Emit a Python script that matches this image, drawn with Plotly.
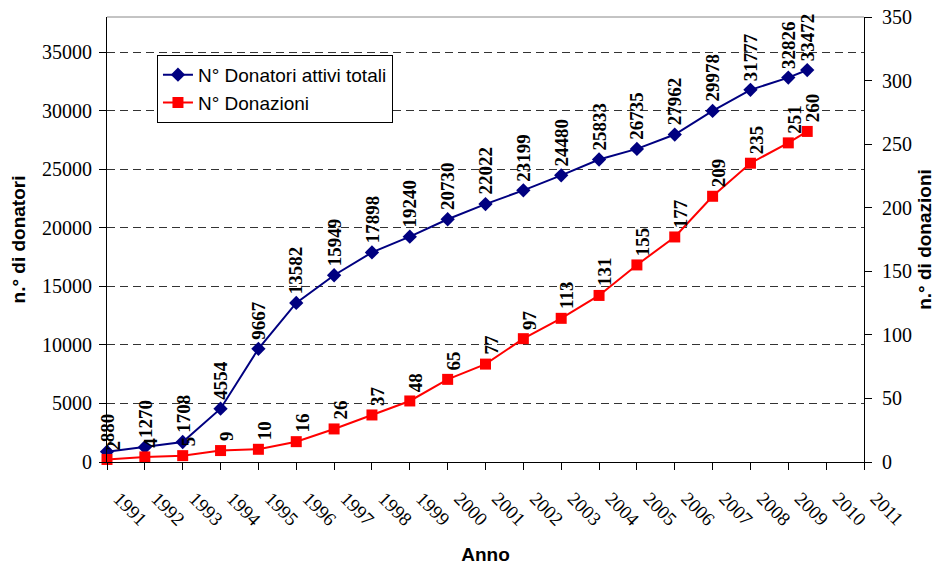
import plotly.graph_objects as go

# Data
anni = [1991, 1992, 1993, 1994, 1995, 1996, 1997, 1998, 1999, 2000,
        2001, 2002, 2003, 2004, 2005, 2006, 2007, 2008, 2009, 2009.5]
donatori = [880, 1270, 1708, 4554, 9667, 13582, 15949, 17898, 19240, 20730,
            22022, 23199, 24480, 25833, 26735, 27962, 29978, 31777, 32826, 33472]
donazioni = [2, 4, 5, 9, 10, 16, 26, 37, 48, 65,
             77, 97, 113, 131, 155, 177, 209, 235, 251, 260]
tick_anni = list(range(1991, 2012))

BLUE = "#000080"
RED = "#FF0000"
SERIF = "Liberation Serif, Times New Roman, serif"
SANS = "Liberation Sans, Arial, sans-serif"

fig = go.Figure()
fig.add_trace(go.Scatter(
    x=anni, y=donatori, name="N° Donatori attivi totali", mode="lines+markers",
    line=dict(color=BLUE, width=2),
    marker=dict(symbol="diamond", size=11, color=BLUE),
    cliponaxis=False, yaxis="y"))
fig.add_trace(go.Scatter(
    x=anni, y=donazioni, name="N° Donazioni", mode="lines+markers",
    line=dict(color=RED, width=2),
    marker=dict(symbol="square", size=11, color=RED),
    cliponaxis=False, yaxis="y2"))

annotations = []
for xv, yv in zip(anni, donatori):
    annotations.append(dict(x=xv, y=yv, xref="x", yref="y", text=f"<b>{yv}</b>",
                            textangle=-90, showarrow=False, xanchor="center",
                            yanchor="bottom", yshift=7,
                            font=dict(family=SERIF, size=19, color="black")))
for xv, yv in zip(anni, donazioni):
    annotations.append(dict(x=xv, y=yv, xref="x", yref="y2", text=f"<b>{yv}</b>",
                            textangle=-90, showarrow=False, xanchor="center",
                            yanchor="bottom", yshift=7, xshift=6,
                            font=dict(family=SERIF, size=19, color="black")))

fig.update_layout(
    width=932, height=557,
    margin=dict(l=99, r=76, t=9, b=103, autoexpand=False),
    paper_bgcolor="white", plot_bgcolor="white",
    showlegend=True,
    legend=dict(x=0.066, y=0.915, xanchor="left", yanchor="top",
                bordercolor="black", borderwidth=1, bgcolor="white",
                font=dict(family=SANS, size=19, color="black"),
                tracegroupgap=0, itemsizing="trace"),
    annotations=annotations,
    xaxis=dict(range=[1991, 2011], tickmode="array", tickvals=tick_anni,
               ticktext=[str(a) for a in tick_anni], tickangle=45,
               showgrid=False, zeroline=False, showline=True, linecolor="black",
               linewidth=1, ticks="outside", ticklen=7, tickcolor="black",
               automargin=False, ticklabelstandoff=10, ticklabelshift=12,
               tickfont=dict(family=SERIF, size=19, color="black"),
               title=dict(text="<b>Anno</b>", standoff=20,
                          font=dict(family=SANS, size=19, color="black"))),
    yaxis=dict(range=[0, 38000], tickmode="linear", dtick=5000, tick0=0,
               tickformat="d",
               showgrid=True, gridcolor="#333333", griddash="8px,5px", gridwidth=1,
               zeroline=False, showline=True, linecolor="black", linewidth=1,
               ticks="outside", ticklen=7, tickcolor="black", automargin=False,
               ticklabelstandoff=3,
               tickfont=dict(family=SERIF, size=20, color="black"),
               title=dict(text="<b>n.° di donatori</b>", standoff=18,
                          font=dict(family=SANS, size=19, color="black"))),
    yaxis2=dict(range=[0, 350], tickmode="linear", dtick=50, tick0=0,
                overlaying="y", side="right", showgrid=False, zeroline=False,
                showline=True, linecolor="black", linewidth=1,
                ticks="outside", ticklen=7, tickcolor="black", automargin=False,
                ticklabelstandoff=6, ticklabeloverflow="allow",
                tickfont=dict(family=SERIF, size=20, color="black"),
                title=dict(text="<b>n.° di donazioni</b>", standoff=6,
                           font=dict(family=SANS, size=19, color="black"))),
    shapes=[dict(type="line", xref="paper", yref="paper", x0=0, x1=1, y0=1, y1=1,
                 line=dict(color="#888888", width=1))],
)

fig.write_html("out.html")
